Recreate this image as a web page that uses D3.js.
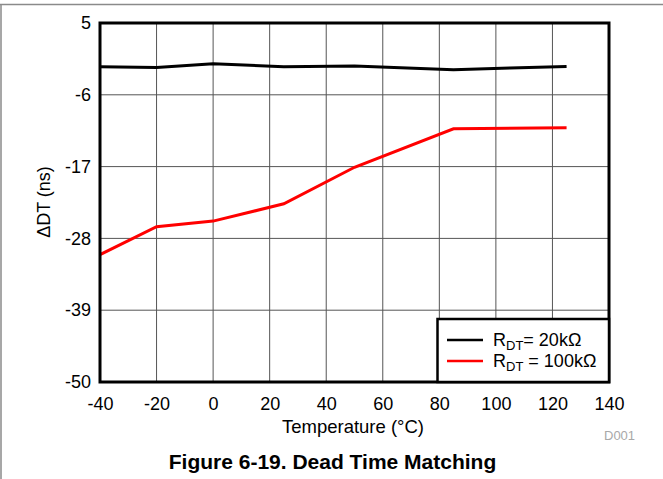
<!DOCTYPE html>
<html>
<head>
<meta charset="utf-8">
<script src="https://cdn.jsdelivr.net/npm/d3@7/dist/d3.min.js"></script>
<style>
body{margin:0;background:#fff;}
svg{display:block;font-family:"Liberation Sans",Arial,sans-serif;}
</style>
</head>
<body>
<svg id="chart" width="663" height="479"></svg>
<script>
const temps = [-40, -20, 0, 25, 50, 85, 105, 125];
const rdt20k = [-1.7, -1.8, -1.25, -1.7, -1.6, -2.15, -1.9, -1.65];
const tempsRed = [-40, -20, 0, 25, 50, 85, 125];
const rdt100k = [-30.5, -26.2, -25.35, -22.7, -17.1, -11.2, -11.05];
const xTicks = [-40, -20, 0, 20, 40, 60, 80, 100, 120, 140];
const yTicks = [5, -6, -17, -28, -39, -50];
const seriesNames = ["20k\u03A9", "100k\u03A9"];

const svg = d3.select("#chart");
const L = 100, R = 609, T = 23, B = 382;
const x = d3.scaleLinear().domain([-40, 140]).range([L, R]);
const y = d3.scaleLinear().domain([-50, 5]).range([B, T]);
const FONT = "Liberation Sans, Arial, sans-serif";

// outer frame
svg.append("line").attr("x1",0).attr("x2",663).attr("y1",4.5).attr("y2",4.5).attr("stroke","#8a8a8a").attr("stroke-width",1.5);
svg.append("line").attr("x1",1).attr("x2",1).attr("y1",4).attr("y2",479).attr("stroke","#8a8a8a").attr("stroke-width",1.5);

// grid
const g = svg.append("g");
g.selectAll(".vg").data(xTicks).join("line")
  .attr("x1",d=>x(d)).attr("x2",d=>x(d)).attr("y1",T).attr("y2",B)
  .attr("stroke","#555").attr("stroke-width",1);
g.selectAll(".hg").data(yTicks).join("line")
  .attr("x1",L).attr("x2",R).attr("y1",d=>y(d)).attr("y2",d=>y(d))
  .attr("stroke","#555").attr("stroke-width",1);

// axes labels via d3 axes
const fmt = d => String(d);
const xAxis = svg.append("g").attr("transform",`translate(0,${B})`)
  .call(d3.axisBottom(x).tickValues(xTicks).tickSize(0).tickPadding(15).tickFormat(fmt));
xAxis.select(".domain").remove();
xAxis.selectAll("text").attr("font-size",18).attr("fill","#000").attr("font-family",FONT);

const yAxis = svg.append("g").attr("transform",`translate(${L},0)`)
  .call(d3.axisLeft(y).tickValues(yTicks).tickSize(0).tickPadding(9).tickFormat(fmt));
yAxis.select(".domain").remove();
yAxis.selectAll("text").attr("font-size",18).attr("fill","#000").attr("font-family",FONT);

// lines
const line = d3.line().x(d=>x(d[0])).y(d=>y(d[1]));
svg.append("path").datum(temps.map((t,i)=>[t,rdt20k[i]]))
  .attr("d",line).attr("fill","none").attr("stroke","#000").attr("stroke-width",3);
svg.append("path").datum(tempsRed.map((t,i)=>[t,rdt100k[i]]))
  .attr("d",line).attr("fill","none").attr("stroke","#ff0000").attr("stroke-width",3);

// plot border
svg.append("rect").attr("x",L).attr("y",T).attr("width",R-L).attr("height",B-T)
  .attr("fill","none").attr("stroke","#000").attr("stroke-width",3);

// legend
const lg = svg.append("g");
lg.append("rect").attr("x",437.5).attr("y",319).attr("width",R-437.5).attr("height",B-319)
  .attr("fill","#fff").attr("stroke","#000").attr("stroke-width",2.5);
const colors = ["#000","#ff0000"];
const labels = ["= ", " = "];
seriesNames.forEach((n,i)=>{
  const yy = 340 + i*21;
  lg.append("line").attr("x1",447).attr("x2",483).attr("y1",yy).attr("y2",yy)
    .attr("stroke",colors[i]).attr("stroke-width",2.5);
  const t = lg.append("text").attr("x",493).attr("y",yy+6).attr("font-size",18).attr("fill","#000");
  t.append("tspan").text("R");
  t.append("tspan").attr("font-size",13).attr("dy",4).text("DT");
  t.append("tspan").attr("dy",-4).text(labels[i] + n);
});

// titles
svg.append("text").attr("x",353).attr("y",433).attr("text-anchor","middle")
  .attr("font-size",18.5).text("Temperature (\u00B0C)");
svg.append("text").attr("transform",`translate(50,202) rotate(-90)`)
  .attr("text-anchor","middle").attr("font-size",18).text("\u0394DT (ns)");
svg.append("text").attr("x",604).attr("y",440).attr("font-size",13).attr("fill","#a8a8a8").text("D001");
svg.append("text").attr("x",332.5).attr("y",469).attr("text-anchor","middle")
  .attr("font-size",21).attr("font-weight","bold").text("Figure 6-19. Dead Time Matching");
</script>
</body>
</html>
